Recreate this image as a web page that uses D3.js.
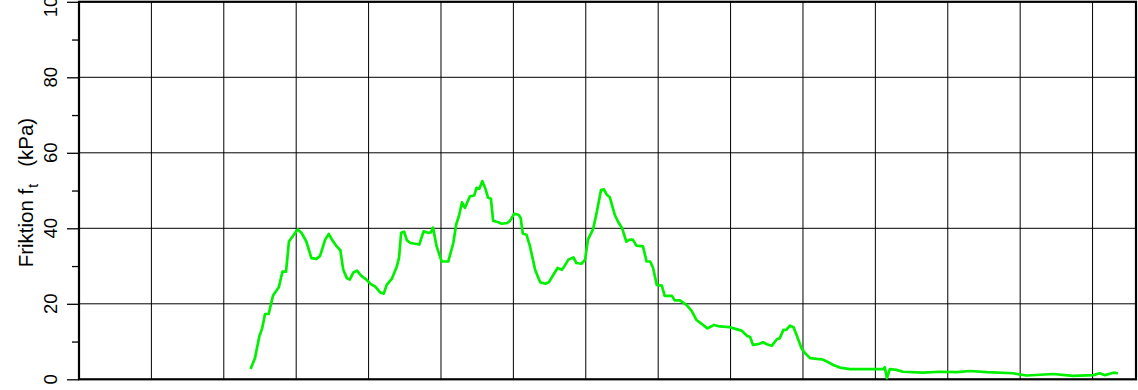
<!DOCTYPE html>
<html>
<head>
<meta charset="utf-8">
<script src="https://cdn.jsdelivr.net/npm/d3@7"></script>
<style>
  html, body { margin: 0; padding: 0; background: #fff; }
  svg { display: block; }
  text { font-family: "Liberation Sans", Arial, sans-serif; fill: #000; }
</style>
</head>
<body>
<svg id="chart" width="1138" height="390"></svg>
<script>
// Sleeve friction profile
const depth = [
  2.37, 2.43, 2.49, 2.53, 2.57, 2.62, 2.68, 2.76, 2.81, 2.86, 2.90, 2.96, 3.02, 3.07, 3.14,
  3.21, 3.28, 3.33, 3.40, 3.45, 3.50, 3.56, 3.61, 3.65, 3.70, 3.74, 3.79, 3.84, 3.90, 3.97,
  4.03, 4.09, 4.16, 4.21, 4.25, 4.32, 4.39, 4.42, 4.45, 4.49, 4.53, 4.58, 4.64, 4.70, 4.76,
  4.82, 4.86, 4.89, 4.94, 5.01, 5.10, 5.17, 5.21, 5.25, 5.29, 5.33, 5.40, 5.46, 5.49, 5.53,
  5.57, 5.61, 5.65, 5.69, 5.72, 5.79, 5.84, 5.91, 5.95, 6.01, 6.07, 6.10, 6.13, 6.18, 6.23,
  6.30, 6.37, 6.44, 6.49, 6.54, 6.61, 6.67, 6.71, 6.76, 6.83, 6.87, 6.94, 6.99, 7.03, 7.10,
  7.15, 7.21, 7.25, 7.29, 7.33, 7.40, 7.45, 7.50, 7.56, 7.61, 7.65, 7.70, 7.79, 7.84, 7.89,
  7.93, 7.98, 8.05, 8.09, 8.19, 8.23, 8.30, 8.39, 8.46, 8.53, 8.60, 8.68, 8.77, 8.85, 8.99,
  9.08, 9.15, 9.23, 9.27, 9.31, 9.38, 9.45, 9.50, 9.57, 9.64, 9.68, 9.73, 9.77, 9.82, 9.87,
  9.91, 9.98, 10.03, 10.10, 10.19, 10.26, 10.33, 10.42, 10.51, 10.65, 10.88, 11.11, 11.13, 11.16, 11.20,
  11.29, 11.38, 11.66, 11.89, 12.12, 12.31, 12.54, 12.90, 13.09, 13.46, 13.73, 14.01, 14.10, 14.17, 14.29,
  14.35, 14.40
];
const friction = [
  2.7, 5.6, 11.3, 13.5, 17.3, 17.3, 22.2, 24.4, 28.5, 28.5, 36.5, 38.1, 39.7, 38.9, 36.5,
  32.1, 31.9, 32.7, 37.0, 38.5, 36.8, 35.2, 34.2, 29.0, 26.8, 26.4, 28.3, 28.8, 27.4, 26.4,
  25.2, 24.6, 23.0, 22.7, 25.0, 26.6, 29.9, 32.1, 38.8, 39.1, 36.8, 36.1, 35.9, 35.7, 39.2,
  38.8, 38.9, 40.2, 35.2, 31.2, 31.2, 36.1, 41.0, 43.4, 46.9, 45.4, 48.5, 48.7, 50.7, 50.5,
  52.5, 50.7, 48.1, 47.8, 42.0, 41.6, 41.2, 41.4, 41.9, 43.8, 43.6, 42.8, 38.6, 38.3, 35.2,
  29.0, 25.7, 25.3, 25.7, 27.3, 29.5, 29.0, 30.1, 31.7, 32.3, 30.8, 30.6, 31.7, 37.0, 39.7,
  44.1, 50.1, 50.3, 48.9, 48.3, 43.6, 41.6, 40.1, 36.5, 37.0, 37.0, 35.4, 35.2, 31.2, 31.2,
  29.5, 25.0, 24.8, 22.1, 22.1, 20.9, 20.9, 19.7, 18.2, 15.7, 14.7, 13.5, 14.4, 14.0, 13.8,
  13.3, 12.9, 11.5, 11.2, 9.1, 9.3, 9.8, 9.3, 8.9, 10.6, 10.9, 13.1, 13.1, 14.2, 13.8,
  11.8, 8.2, 6.9, 5.6, 5.4, 5.3, 4.7, 3.8, 3.1, 2.7, 2.7, 2.7, 3.2, 0.3, 2.7,
  2.5, 2.0, 1.75, 2.0, 1.9, 2.2, 1.9, 1.6, 1.0, 1.4, 0.9, 1.1, 1.6, 1.1, 1.75,
  1.6
];
const yTicks = [0, 20, 40, 60, 80, 100];
const yMinorTicks = [10, 30, 50, 70, 90];
const xGrid = [1, 2, 3, 4, 5, 6, 7, 8, 9, 10, 11, 12, 13, 14];

const svg = d3.select("#chart");
const plotLeft = 79, plotRight = 1136, plotTop = 1.8, plotBottom = 379.3;

const x = d3.scaleLinear().domain([0, 14.6]).range([plotLeft, plotRight]);
const y = d3.scaleLinear().domain([0, 100]).range([plotBottom, plotTop]);

// grid
svg.append("g").selectAll("line").data(xGrid).join("line")
  .attr("x1", d => x(d)).attr("x2", d => x(d))
  .attr("y1", plotTop).attr("y2", plotBottom)
  .attr("stroke", "#000").attr("stroke-width", 1);
svg.append("g").selectAll("line").data(yTicks.slice(1, -1)).join("line")
  .attr("x1", plotLeft).attr("x2", plotRight)
  .attr("y1", d => y(d)).attr("y2", d => y(d))
  .attr("stroke", "#000").attr("stroke-width", 1);

// y axis ticks
const yAxis = d3.axisLeft(y).tickValues(yTicks).tickSize(12).tickFormat("");
const gy = svg.append("g").attr("transform", `translate(${plotLeft},0)`).call(yAxis);
gy.select(".domain").remove();
gy.selectAll(".tick line").attr("stroke", "#000").attr("stroke-width", 1.3);
const yAxisMinor = d3.axisLeft(y).tickValues(yMinorTicks).tickSize(7).tickFormat("");
const gym = svg.append("g").attr("transform", `translate(${plotLeft},0)`).call(yAxisMinor);
gym.select(".domain").remove();
gym.selectAll(".tick line").attr("stroke", "#000").attr("stroke-width", 1.3);

// rotated tick labels
svg.append("g").selectAll("text").data(yTicks).join("text")
  .attr("transform", d => `translate(57,${y(d)}) rotate(-90)`)
  .attr("text-anchor", "middle")
  .attr("font-size", 18.5)
  .text(d => d);

// axis title
const title = svg.append("text")
  .attr("transform", `translate(32.5,${(plotTop + plotBottom) / 2 + 2}) rotate(-90)`)
  .attr("text-anchor", "middle")
  .attr("font-size", 20.5);
title.append("tspan").text("Friktion f");
title.append("tspan").attr("font-size", 14).attr("dy", 5).attr("dx", 1).text("t");
title.append("tspan").attr("dy", -5).attr("dx", 17).text("(kPa)");

// frame
svg.append("rect")
  .attr("x", plotLeft).attr("y", plotTop)
  .attr("width", plotRight - plotLeft).attr("height", plotBottom - plotTop)
  .attr("fill", "none").attr("stroke", "#000").attr("stroke-width", 2.2);

// friction curve
const pts = depth.map((d, i) => [d, friction[i]]);
svg.append("path")
  .datum(pts)
  .attr("fill", "none")
  .attr("stroke", "#00f000")
  .attr("stroke-width", 2.7)
  .attr("stroke-linejoin", "round")
  .attr("d", d3.line().x(d => x(d[0])).y(d => y(d[1])));
</script>
</body>
</html>
